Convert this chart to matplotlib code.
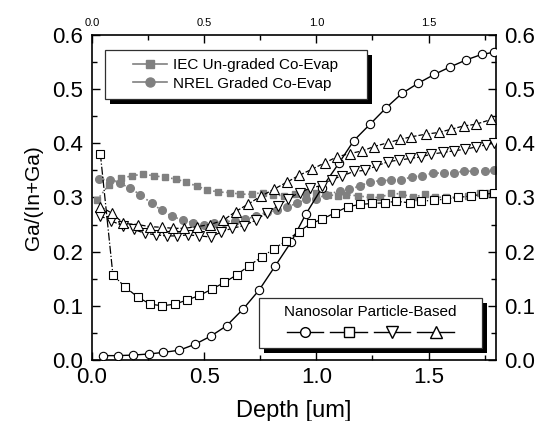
import matplotlib
matplotlib.use("Agg")
import matplotlib.pyplot as plt
from matplotlib.lines import Line2D
from matplotlib.patches import Rectangle
from matplotlib.ticker import MultipleLocator

plt.rcParams['font.family'] = ['Liberation Sans', 'DejaVu Sans']

# Nanosolar open circles
circ_x = [0.051, 0.116, 0.183, 0.254, 0.319, 0.39, 0.46, 0.53, 0.60, 0.674, 0.745, 0.816, 0.888,
          0.953, 1.025, 1.10, 1.167, 1.241, 1.312, 1.381, 1.454, 1.525, 1.596, 1.668, 1.736, 1.79]
circ_y = [0.008, 0.008, 0.009, 0.011, 0.014, 0.018, 0.029, 0.044, 0.063, 0.094, 0.129, 0.173, 0.218,
          0.269, 0.318, 0.363, 0.405, 0.436, 0.466, 0.492, 0.511, 0.527, 0.541, 0.554, 0.564, 0.568]

# Nanosolar open squares
sq_x = [0.038, 0.094, 0.150, 0.205, 0.26, 0.313, 0.37, 0.426, 0.479, 0.536, 0.59, 0.645, 0.70,
        0.756, 0.811, 0.866, 0.922, 0.976, 1.027, 1.084, 1.141, 1.193, 1.25, 1.304, 1.356, 1.416,
        1.467, 1.522, 1.579, 1.633, 1.69, 1.744, 1.793]
sq_y = [0.381, 0.157, 0.134, 0.116, 0.103, 0.100, 0.103, 0.111, 0.119, 0.131, 0.143, 0.157, 0.174,
        0.19, 0.205, 0.22, 0.237, 0.252, 0.26, 0.272, 0.283, 0.287, 0.289, 0.29, 0.293, 0.29,
        0.293, 0.295, 0.297, 0.30, 0.303, 0.306, 0.308]

# Nanosolar down triangles
dn_x = [0.038, 0.085, 0.137, 0.186, 0.235, 0.285, 0.334, 0.381, 0.428, 0.478, 0.53, 0.575, 0.623,
        0.678, 0.73, 0.78, 0.83, 0.875, 0.925, 0.971, 1.023, 1.068, 1.116, 1.167, 1.216, 1.267,
        1.319, 1.368, 1.419, 1.467, 1.512, 1.564, 1.611, 1.663, 1.709, 1.756, 1.793]
dn_y = [0.266, 0.257, 0.248, 0.241, 0.234, 0.231, 0.229, 0.229, 0.231, 0.229, 0.227, 0.236, 0.243,
        0.248, 0.258, 0.272, 0.285, 0.298, 0.309, 0.317, 0.322, 0.333, 0.340, 0.348, 0.350, 0.358,
        0.366, 0.369, 0.372, 0.375, 0.380, 0.383, 0.386, 0.389, 0.393, 0.397, 0.401]

# Nanosolar up triangles
up_x = [0.038, 0.09, 0.141, 0.204, 0.26, 0.312, 0.361, 0.411, 0.467, 0.527, 0.586, 0.641, 0.697,
        0.752, 0.81, 0.868, 0.924, 0.98, 1.038, 1.092, 1.149, 1.205, 1.257, 1.319, 1.371, 1.423,
        1.49, 1.546, 1.601, 1.656, 1.709, 1.779]
up_y = [0.283, 0.271, 0.252, 0.250, 0.246, 0.245, 0.243, 0.243, 0.246, 0.250, 0.258, 0.274, 0.288,
        0.302, 0.315, 0.328, 0.341, 0.352, 0.364, 0.375, 0.381, 0.386, 0.394, 0.401, 0.407, 0.412,
        0.417, 0.420, 0.426, 0.432, 0.435, 0.444]

# IEC Un-graded Co-Evap (filled grey squares)
iec_x = [0.023, 0.075, 0.128, 0.179, 0.227, 0.278, 0.327, 0.376, 0.42, 0.467, 0.515, 0.564, 0.616,
         0.66, 0.712, 0.761, 0.808, 0.856, 0.904, 0.953, 0.998, 1.052, 1.097, 1.134, 1.186, 1.238,
         1.285, 1.334, 1.383, 1.43, 1.482, 1.527, 1.579, 1.63, 1.675, 1.727, 1.771]
iec_y = [0.295, 0.323, 0.335, 0.340, 0.343, 0.340, 0.337, 0.334, 0.328, 0.321, 0.314, 0.310, 0.309,
         0.306, 0.306, 0.309, 0.305, 0.303, 0.306, 0.308, 0.308, 0.305, 0.303, 0.305, 0.303, 0.300,
         0.300, 0.308, 0.306, 0.300, 0.306, 0.300, 0.301, 0.300, 0.303, 0.309, 0.309]

# NREL Graded Co-Evap (filled grey circles)
nrel_x = [0.03, 0.08, 0.127, 0.171, 0.216, 0.267, 0.312, 0.356, 0.408, 0.452, 0.5, 0.544, 0.59,
          0.638, 0.682, 0.731, 0.779, 0.823, 0.87, 0.915, 0.956, 1.0, 1.045, 1.104, 1.146, 1.193,
          1.241, 1.29, 1.334, 1.379, 1.428, 1.472, 1.519, 1.567, 1.611, 1.656, 1.704, 1.749, 1.793]
nrel_y = [0.334, 0.332, 0.326, 0.317, 0.305, 0.289, 0.276, 0.265, 0.258, 0.253, 0.250, 0.252, 0.255,
          0.257, 0.260, 0.265, 0.273, 0.276, 0.283, 0.289, 0.298, 0.298, 0.305, 0.312, 0.315, 0.321,
          0.329, 0.331, 0.332, 0.333, 0.338, 0.340, 0.345, 0.345, 0.346, 0.348, 0.349, 0.349, 0.350]

labels_grey = ["IEC Un-graded Co-Evap", "NREL Graded Co-Evap"]
nano_title = "Nanosolar Particle-Based"

GREY = '#808080'

fig = plt.figure(figsize=(5.40, 4.21), dpi=100)
ax = fig.add_axes([0.170, 0.145, 0.7485, 0.772])

ax.plot(iec_x, iec_y, color=GREY, ls=':', lw=1.2, marker='s', ms=5, mfc=GREY, mec=GREY, zorder=2)
ax.plot(nrel_x, nrel_y, color=GREY, ls=':', lw=1.2, marker='o', ms=5.5, mfc=GREY, mec=GREY, zorder=2)

ax.plot(circ_x, circ_y, color='k', ls='-', lw=1.0, marker='o', ms=6, mfc='white', mec='k', mew=0.8, zorder=3)
ax.plot(sq_x, sq_y, color='k', ls='-.', lw=0.9, marker='s', ms=5.5, mfc='white', mec='k', mew=0.8, zorder=3)
ax.plot(dn_x, dn_y, color='k', ls='--', lw=0.9, marker='v', ms=7, mfc='white', mec='k', mew=0.8, zorder=3)
ax.plot(up_x, up_y, color='k', ls='--', lw=0.9, marker='^', ms=7, mfc='white', mec='k', mew=0.8, zorder=3)

ax.set_xlim(0, 1.8)
ax.set_ylim(0, 0.6)
ax.xaxis.set_major_locator(MultipleLocator(0.5))
ax.xaxis.set_minor_locator(MultipleLocator(0.25))
ax.yaxis.set_major_locator(MultipleLocator(0.1))
ax.yaxis.set_minor_locator(MultipleLocator(0.05))
ax.tick_params(which='both', direction='in', top=True, right=True, width=1.0)
ax.tick_params(which='major', length=6, labelsize=16, labelright=True, labeltop=True)
ax.tick_params(axis='y', which='major', pad=6)
ax.tick_params(axis='x', which='major', pad=5)
ax.tick_params(which='minor', length=3.5)
for t in ax.xaxis.get_major_ticks():
    t.label2.set_fontsize(8)
for s in ax.spines.values():
    s.set_linewidth(1.2)

ax.set_xlabel("Depth [um]", fontsize=17, labelpad=9)
ax.set_ylabel("Ga/(In+Ga)", fontsize=15, labelpad=7)

# legend boxes with black drop shadow (axes coordinates)
sdx, sdy = 5 / 404, 5 / 325


def box(x0, y0, w, h):
    ax.add_patch(Rectangle((x0 + sdx, y0 - sdy), w, h, transform=ax.transAxes, facecolor='black',
                           edgecolor='black', lw=0, clip_on=False, zorder=5))
    ax.add_patch(Rectangle((x0, y0), w, h, transform=ax.transAxes, facecolor='white',
                           edgecolor='#303030', lw=0.9, clip_on=False, zorder=5.1))


box(0.032, 0.803, 0.649, 0.151)
box(0.413, 0.038, 0.552, 0.153)

h1 = [Line2D([], [], color=GREY, lw=1.2, marker='s', ms=6, mfc=GREY, mec=GREY),
      Line2D([], [], color=GREY, lw=1.2, marker='o', ms=6.5, mfc=GREY, mec=GREY)]
leg1 = ax.legend(h1, labels_grey, loc='center', bbox_to_anchor=(0.356, 0.878), fontsize=11,
                 frameon=False, handlelength=2.2, borderpad=0, labelspacing=0.28,
                 handletextpad=0.4, borderaxespad=0)
leg1.set_zorder(6)
ax.add_artist(leg1)

h2 = [Line2D([], [], color='k', lw=1.0, marker='o', ms=7, mfc='white', mec='k'),
      Line2D([], [], color='k', lw=1.0, marker='s', ms=6.5, mfc='white', mec='k'),
      Line2D([], [], color='k', lw=1.0, marker='v', ms=8, mfc='white', mec='k'),
      Line2D([], [], color='k', lw=1.0, marker='^', ms=8, mfc='white', mec='k')]
leg2 = ax.legend(h2, ['', '', '', ''], loc='center', bbox_to_anchor=(0.689, 0.114), ncol=4,
                 title=nano_title, title_fontsize=11, fontsize=11, frameon=False,
                 handlelength=2.4, handletextpad=0, columnspacing=0.45, borderpad=0,
                 borderaxespad=0)
leg2.set_zorder(6)

fig.savefig("out.png", dpi=100)
